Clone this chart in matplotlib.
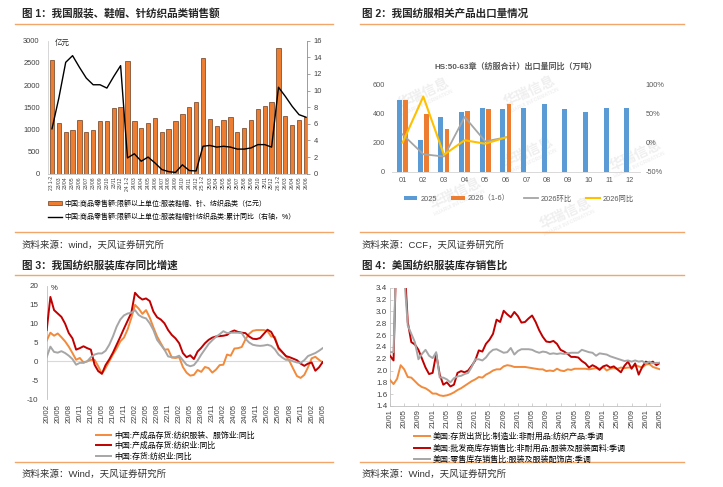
import matplotlib
matplotlib.use('Agg')
import matplotlib.pyplot as plt
import numpy as np
from matplotlib.lines import Line2D
from matplotlib.patches import Patch

plt.rcParams['font.family'] = ['Liberation Sans', 'Noto Sans CJK SC']
plt.rcParams['axes.unicode_minus'] = False

# ---------- data ----------
# fig 1: retail sales of apparel, shoes, hats, knitwear & textiles
p1_cats = ['23 1-2', '23/03', '23/04', '23/05', '23/06', '23/07', '23/08', '23/09', '23/10', '23/11', '23/12',
           '24 1-2', '24/03', '24/04', '24/05', '24/06', '24/07', '24/08', '24/09', '24/10', '24/11', '24/12',
           '25 1-2', '25/03', '25/04', '25/05', '25/06', '25/07', '25/08', '25/09', '25/10', '25/11', '25/12',
           '26 1-2', '26/03', '26/04', '26/05', '26/06']
p1_sales = [2560, 1143, 940, 980, 1215, 940, 985, 1181, 1190, 1480, 1505,
            2542, 1181, 1024, 1137, 1250, 933, 1008, 1181, 1348, 1502, 1625,
            2620, 1245, 1073, 1208, 1290, 938, 1028, 1215, 1455, 1538, 1628,
            2825, 1298, 1095, 1215, 1275]
p1_yoy = [5.4, 9.1, 13.4, 14.2, 12.8, 11.5, 10.7, 10.7, 10.3, 11.7, 13.0,
          1.9, 2.4, 1.5, 2.0, 1.3, 0.5, 0.25, 0.15, 1.07, 0.38, 0.33,
          3.3, 3.4, 3.2, 3.3, 3.2, 2.96, 2.96, 3.1, 3.5, 3.5, 3.2,
          10.4, 9.3, 8.1, 7.1, 6.8]

# fig 2: textile & apparel export volume
p2_months = ['01', '02', '03', '04', '05', '06', '07', '08', '09', '10', '11', '12']
p2_2025 = [490, 220, 375, 408, 440, 432, 435, 465, 432, 410, 440, 435]
p2_2026 = [495, 395, 293, 420, 428, 465]
p2_mom = [0.14, -0.20, -0.24, 0.44, 0.02, 0.09]
p2_yoy = [0.0, 0.79, -0.21, 0.04, -0.02, 0.09]

# fig 3: China inventory yoy (monthly 20/02 - 26/05)
p3_ticks = ['20/02', '20/05', '20/08', '20/11', '21/02', '21/05', '21/08', '21/11', '22/02', '22/05',
            '22/08', '22/11', '23/02', '23/05', '23/08', '23/11', '24/02', '24/05', '24/08', '24/11',
            '25/02', '25/05', '25/08', '25/11', '26/02', '26/05']
p3_apparel = [5.5, 7.6, 6.8, 7.4, 6.4, 5.3, 3.9, 2.2, 0.4, 0.9, -0.3, 0.0,
              0.4, 0.4, -1.3, -3.3, -1.8, 0.0, 1.8, 3.4, 5.3, 6.3, 8.5, 11.5,
              15.0, 14.0, 12.6, 13.6, 11.6, 9.0, 6.6, 4.8, 3.1, 3.2, 1.0, 0.9,
              1.1, -1.5, -3.0, -3.8, -3.6, -2.3, -2.8, -1.5, -1.8, -3.0, -2.2, -1.0,
              -0.9, 1.8, 1.5, 3.4, 3.5, 3.8, 5.8, 7.3, 8.1, 8.3, 8.3, 8.3,
              8.0, 6.6, 6.5, 3.2, 2.4, 1.4, 0.0, -2.0, -3.9, -4.4, -3.6, -1.6,
              0.8, 1.2, 0.4, -0.3]
p3_textile = [8.3, 17.1, 13.6, 12.7, 11.8, 10.0, 7.5, 6.1, 3.1, 3.5, 4.0, 3.5,
              3.1, -0.9, -2.6, -3.3, -1.0, 0.5, 2.3, 4.4, 6.5, 8.7, 10.8, 12.9,
              18.2, 17.1, 16.4, 16.7, 16.0, 13.2, 11.7, 11.1, 10.1, 8.3, 7.0, 6.1,
              4.8, 2.2, 1.1, 1.6, 0.6, 2.6, 3.6, 4.8, 5.7, 6.3, 6.6, 6.7,
              6.8, 7.0, 7.8, 8.2, 7.8, 7.6, 7.5, 6.6, 6.0, 5.9, 6.2, 7.3,
              8.4, 7.8, 6.0, 3.6, 2.5, 1.4, 1.1, 0.7, 0.3, -0.6, -1.2, -0.6,
              -0.3, -2.5, -1.6, -0.2]
p3_stock = [1.1, 3.9, 2.5, 2.3, 2.7, 2.2, 1.5, 0.6, -0.9, -0.4, -0.4, 0.0,
            1.1, 1.8, 2.1, 2.1, 2.8, 4.4, 6.6, 9.2, 11.1, 12.2, 12.7, 12.9,
            13.6, 12.3, 11.7, 11.4, 10.1, 8.3, 5.7, 4.4, 3.1, 1.3, 1.1, 1.1,
            1.5, 0.3, -0.9, -1.3, -1.0, 0.2, 1.8, 3.2, 4.6, 5.6, 6.5, 7.2,
            8.0, 7.5, 7.6, 7.6, 7.6, 7.5, 6.0, 5.0, 4.4, 4.2, 4.1, 4.2,
            4.4, 4.1, 3.2, 1.8, 1.0, 0.4, 0.4, 0.0, -0.3, -0.4, 0.3, 1.4,
            1.8, 2.2, 2.8, 3.5]

# fig 4: US inventory / sales ratios (monthly 20/01 - 26/05)
p4_ticks = ['20/01', '20/05', '20/09', '21/01', '21/05', '21/09', '22/01', '22/05', '22/09', '23/01',
            '23/05', '23/09', '24/01', '24/05', '24/09', '25/01', '25/05', '25/09', '26/01', '26/05']
p4_mfg = [1.84, 1.77, 1.86, 2.09, 2.02, 1.89, 1.88, 1.82, 1.76, 1.72, 1.70, 1.66,
          1.61, 1.61, 1.58, 1.57, 1.58, 1.60, 1.63, 1.67, 1.70, 1.74, 1.78, 1.82,
          1.85, 1.89, 1.88, 1.93, 1.96, 2.00, 2.02, 2.02, 2.07, 2.09, 2.08, 2.06,
          2.06, 2.06, 2.06, 2.05, 2.04, 2.03, 2.02, 2.02, 1.99, 2.00, 1.99, 2.03,
          2.00, 1.99, 2.02, 2.01, 2.03, 2.03, 2.03, 2.03, 2.02, 2.03, 2.04, 2.03,
          2.06, 2.00, 2.03, 2.04, 2.03, 2.05, 2.04, 2.05, 2.05, 2.09, 2.07, 2.05,
          2.10, 2.11, 2.06, 2.04, 2.02]
p4_whole = [2.25, 2.17, 4.5, 4.5, 3.9, 2.82, 2.48, 2.44, 2.35, 2.20, 2.05, 1.94,
            1.96, 2.28, 1.93, 1.76, 1.80, 1.73, 1.76, 1.96, 1.99, 1.97, 2.00, 2.08,
            2.17, 2.34, 2.32, 2.45, 2.52, 2.62, 2.86, 2.82, 3.01, 2.95, 2.90, 2.99,
            2.92, 2.81, 2.82, 2.88, 2.93, 2.82, 2.68, 2.57, 2.49, 2.48, 2.50, 2.45,
            2.35, 2.32, 2.28, 2.23, 2.23, 2.22, 2.16, 2.12, 2.05, 2.09, 2.06, 2.01,
            2.07, 2.09, 2.05, 2.07, 2.02, 1.97, 2.08, 2.15, 2.03, 2.12, 1.93, 2.06,
            2.15, 2.13, 2.15, 2.09, 2.13]
p4_retail = [2.31, 2.31, 4.5, 4.5, 3.6, 2.76, 2.62, 2.48, 2.19, 2.28, 2.35, 2.25,
             2.21, 2.31, 1.88, 1.88, 1.85, 1.80, 1.87, 1.90, 1.91, 1.94, 1.96, 2.06,
             2.19, 2.19, 2.17, 2.22, 2.30, 2.35, 2.36, 2.33, 2.30, 2.31, 2.38, 2.27,
             2.33, 2.36, 2.36, 2.36, 2.35, 2.32, 2.30, 2.32, 2.31, 2.28, 2.29, 2.28,
             2.29, 2.28, 2.29, 2.30, 2.30, 2.30, 2.35, 2.33, 2.31, 2.30, 2.25, 2.29,
             2.28, 2.27, 2.24, 2.22, 2.20, 2.18, 2.16, 2.17, 2.15, 2.17, 2.15, 2.16,
             2.12, 2.15, 2.12, 2.13, 2.13]

# ---------- layout helpers (pixel coords) ----------
W, H = 723, 487
fig = plt.figure(figsize=(W / 100, H / 100), dpi=100)


def fx(x):
    return x / W


def fy(y):
    return 1 - y / H


def rect(l, t, r, b):
    return [l / W, 1 - b / H, (r - l) / W, (b - t) / H]


ORANGE_RULE = '#F2A66A'
TICK_C = '#404040'


def header(x0, x1, tx, y_title, y_line, y_bot, y_src, title, src):
    fig.text(fx(tx), fy(y_title), title, fontsize=7.6, fontweight='bold', color='#262626', va='center')
    fig.add_artist(Line2D([fx(x0), fx(x1)], [fy(y_line)] * 2, color=ORANGE_RULE, lw=1.0))
    fig.add_artist(Line2D([fx(x0), fx(x1)], [fy(y_bot)] * 2, color=ORANGE_RULE, lw=1.0))
    fig.text(fx(tx), fy(y_src), src, fontsize=6.8, color='#333333', va='center')


header(15, 333, 22, 14, 24, 232, 245, '图 1：我国服装、鞋帽、针纺织品类销售额', '资料来源：wind，天风证券研究所')
header(360, 684, 362, 14, 24, 232, 245, '图 2：我国纺服相关产品出口量情况', '资料来源：CCF，天风证券研究所')
header(15, 333, 22, 265, 275, 462, 474, '图 3：我国纺织服装库存同比增速', '资料来源：Wind，天风证券研究所')
header(360, 684, 362, 265, 275, 462, 474, '图 4：美国纺织服装库存销售比', '资料来源：Wind，天风证券研究所')

# ---------- fig 1 ----------
ax1 = fig.add_axes(rect(48, 40.7, 307.3, 173.7))
x1 = np.arange(len(p1_cats))
ax1.bar(x1, p1_sales, width=0.63, color='#ED7D31', edgecolor='#5a3216', linewidth=0.45)
ax1.set_xlim(-0.58, len(p1_cats) - 0.8)
ax1.set_ylim(0, 3000)
ax1.set_yticks(range(0, 3001, 500))
ax1.set_xticks(x1)
ax1.set_xticklabels(p1_cats, rotation=90, fontsize=3.6)
ax1.tick_params(axis='y', length=0, pad=6, labelsize=5.4, labelcolor=TICK_C)
ax1.tick_params(axis='x', length=0, pad=2, labelcolor=TICK_C)
for s in ['top', 'right']:
    ax1.spines[s].set_visible(False)
ax1.spines['left'].set_color('#d0d0d0')
ax1.spines['bottom'].set_color('#bfbfbf')
ax1.spines['left'].set_linewidth(0.6)
ax1.spines['bottom'].set_linewidth(0.6)

ax1r = ax1.twinx()
ax1r.plot(x1, p1_yoy, color='black', lw=1.0)
ax1r.set_ylim(0, 16)
ax1r.set_yticks(range(0, 17, 2))
ax1r.tick_params(axis='y', length=2.5, width=0.5, color='#7f7f7f', pad=2, labelsize=5.4, labelcolor=TICK_C)
for s in ['top', 'left', 'bottom']:
    ax1r.spines[s].set_visible(False)
ax1r.spines['right'].set_color('#8c8c8c')
ax1r.spines['right'].set_linewidth(0.6)
fig.text(fx(55), fy(43.5), '亿元', fontsize=5.4, color='#262626', va='center')

fig.legend([Patch(facecolor='#ED7D31', edgecolor='#5a3216', linewidth=0.45),
            Line2D([], [], color='black', lw=1.0)],
           ['中国:商品零售额:限额以上单位:服装鞋帽、针、纺织品类（亿元）',
            '中国:商品零售额:限额以上单位:服装鞋帽针纺织品类:累计同比（右轴，%）'],
           loc='upper left', bbox_to_anchor=(fx(48), fy(200)), frameon=False,
           fontsize=5.0, handlelength=2.0, handleheight=0.6, handletextpad=0.3,
           labelspacing=0.85, borderpad=0, borderaxespad=0)

# ---------- fig 2 ----------
# faint watermark behind the chart
for (cx, cy) in [(424, 94), (530, 92), (528, 153), (636, 156), (456, 194), (566, 214)]:
    fig.text(fx(cx), fy(cy), '华瑞信息', fontsize=10, fontweight='bold', color='#efefef',
             rotation=25, ha='center', va='center', zorder=-5)
    fig.text(fx(cx + 4), fy(cy + 9), 'HUARUI INFORMATION', fontsize=3.6, fontweight='bold',
             color='#f1f1f1', rotation=25, ha='center', va='center', zorder=-5)

ax2 = fig.add_axes(rect(392.3, 84.3, 640.3, 171.7))
ax2.set_facecolor('none')
x2 = np.arange(len(p2_months))
ax2.bar(x2 - 0.15, p2_2025, width=0.23, color='#5B9BD5')
ax2.bar(x2[:len(p2_2026)] + 0.15, p2_2026, width=0.23, color='#ED7D31')
ax2.set_xlim(-0.5, len(p2_months) - 0.5)
ax2.set_ylim(0, 600)
ax2.set_yticks([0, 200, 400, 600])
ax2.set_xticks(x2)
ax2.set_xticklabels(p2_months)
ax2.tick_params(axis='both', length=0, labelsize=5.3, labelcolor='#595959')
ax2.tick_params(axis='y', pad=5)
ax2.tick_params(axis='x', pad=4)
for s in ['top', 'right', 'left']:
    ax2.spines[s].set_visible(False)
ax2.spines['bottom'].set_color('#d9d9d9')
ax2.spines['bottom'].set_linewidth(0.7)

ax2r = ax2.twinx()
ax2r.set_facecolor('none')
ax2r.plot(x2[:len(p2_mom)], p2_mom, color='#A5A5A5', lw=1.3)
ax2r.plot(x2[:len(p2_yoy)], p2_yoy, color='#FFC000', lw=1.5)
ax2r.set_ylim(-0.5, 1.0)
ax2r.set_yticks([-0.5, 0, 0.5, 1.0])
ax2r.set_yticklabels(['-50%', '0%', '50%', '100%'])
ax2r.tick_params(axis='y', length=0, pad=4, labelsize=5.3, labelcolor='#595959')
for s in ax2r.spines.values():
    s.set_visible(False)

fig.text(fx(516), fy(67), 'HS:50-63章（纺服合计）出口量同比（万吨）', ha='center', va='center',
         fontsize=5.8, fontweight='bold', color='#595959')
fig.legend([Patch(facecolor='#5B9BD5'), Patch(facecolor='#ED7D31'),
            Line2D([], [], color='#A5A5A5', lw=1.3), Line2D([], [], color='#FFC000', lw=1.5)],
           ['2025', '2026（1-6）', '2026环比', '2026同比'],
           loc='center', bbox_to_anchor=(fx(519), fy(199)), ncol=4, frameon=False,
           fontsize=5.3, handlelength=1.8, handleheight=0.6, handletextpad=0.4,
           columnspacing=2.0, borderpad=0, labelcolor='#595959')

# ---------- fig 3 ----------
ax3 = fig.add_axes(rect(46.7, 286, 322.7, 399))
x3 = np.arange(len(p3_textile))
ax3.axhline(0, color='#d9d9d9', lw=0.8, zorder=1)
ax3.plot(x3, p3_apparel, color='#F28A3C', lw=1.4, zorder=3)
ax3.plot(x3, p3_textile, color='#C00000', lw=1.4, zorder=4)
ax3.plot(x3, p3_stock, color='#A6A6A6', lw=1.4, zorder=5)
ax3.set_xlim(0, len(p3_textile) - 1)
ax3.set_ylim(-10, 20)
ax3.set_yticks(range(-10, 21, 5))
ax3.set_xticks(np.arange(0, len(p3_textile), 3))
ax3.set_xticklabels(p3_ticks, rotation=90)
ax3.tick_params(axis='y', length=0, pad=6, labelsize=5.8, labelcolor=TICK_C)
ax3.tick_params(axis='x', length=0, pad=3.5, labelsize=5.5, labelcolor=TICK_C)
for s in ['top', 'right', 'bottom']:
    ax3.spines[s].set_visible(False)
ax3.spines['left'].set_color('#bfbfbf')
ax3.spines['left'].set_linewidth(0.6)
fig.text(fx(51), fy(289), '%', fontsize=5.6, color='#262626', va='center')

fig.legend([Line2D([], [], color='#F28A3C', lw=1.4), Line2D([], [], color='#C00000', lw=1.4),
            Line2D([], [], color='#A6A6A6', lw=1.4)],
           ['中国:产成品存货:纺织服装、服饰业:同比', '中国:产成品存货:纺织业:同比', '中国:存货:纺织业:同比'],
           loc='upper left', bbox_to_anchor=(fx(96), fy(431.5)), frameon=False,
           fontsize=5.7, handlelength=1.9, handletextpad=0.35, labelspacing=0.3,
           borderpad=0, borderaxespad=0)

# ---------- fig 4 ----------
ax4 = fig.add_axes(rect(390, 287.7, 660, 406))
x4 = np.arange(len(p4_mfg))
ax4.plot(x4, p4_mfg, color='#F28A3C', lw=1.4, zorder=3)
ax4.plot(x4, p4_whole, color='#C00000', lw=1.4, zorder=4)
ax4.plot(x4, p4_retail, color='#A6A6A6', lw=1.4, zorder=5)
ax4.set_xlim(0, len(p4_mfg) - 1)
ax4.set_ylim(1.4, 3.4)
ax4.set_yticks(np.arange(1.4, 3.41, 0.2))
ax4.set_yticklabels(['%.1f' % v for v in np.arange(1.4, 3.41, 0.2)])
ax4.set_xticks(np.arange(0, len(p4_mfg), 4))
ax4.set_xticklabels(p4_ticks, rotation=90)
ax4.tick_params(axis='both', direction='in', length=2, width=0.5, color='#bfbfbf', labelcolor=TICK_C)
ax4.tick_params(axis='y', pad=2, labelsize=5.8)
ax4.tick_params(axis='x', pad=2.5, labelsize=5.5)
for s in ['top', 'right']:
    ax4.spines[s].set_visible(False)
for s in ['left', 'bottom']:
    ax4.spines[s].set_color('#bfbfbf')
    ax4.spines[s].set_linewidth(0.6)

fig.legend([Line2D([], [], color='#F28A3C', lw=1.4), Line2D([], [], color='#C00000', lw=1.4),
            Line2D([], [], color='#A6A6A6', lw=1.4)],
           ['美国:存货出货比:制造业:非耐用品:纺织产品:季调', '美国:批发商库存销售比:非耐用品:服装及服装面料:季调',
            '美国:零售库存销售比:服装及服装配饰店:季调'],
           loc='upper left', bbox_to_anchor=(fx(414), fy(433)), frameon=False,
           fontsize=5.8, handlelength=2.0, handletextpad=0.3, labelspacing=0.4,
           borderpad=0, borderaxespad=0)

fig.savefig('out.png', dpi=100, facecolor='white')
